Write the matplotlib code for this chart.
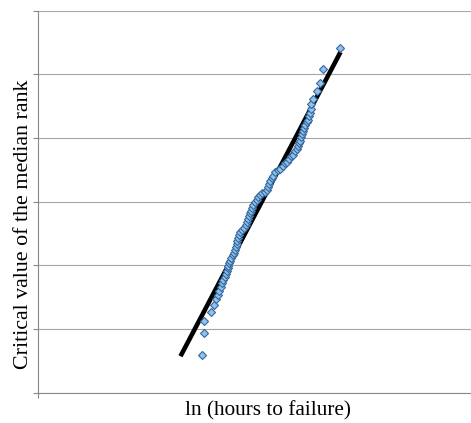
import matplotlib.pyplot as plt

# median rank plot values (ln hours vs ln(ln(1/(1-F))))
ln_hours = [3.28, 3.31, 3.32, 3.45, 3.51, 3.56, 3.59, 3.62, 3.65, 3.68,
            3.70, 3.73, 3.75, 3.77, 3.79, 3.80, 3.82, 3.84, 3.86, 3.89,
            3.91, 3.93, 3.95, 3.97, 3.98, 4.00, 4.01, 4.04, 4.08, 4.12,
            4.15, 4.17, 4.19, 4.21, 4.23, 4.25, 4.28, 4.31, 4.34, 4.37,
            4.40, 4.44, 4.48, 4.53, 4.57, 4.60, 4.62, 4.64, 4.67, 4.70,
            4.74, 4.79, 4.84, 4.89, 4.94, 4.98, 5.02, 5.06, 5.10, 5.14,
            5.17, 5.20, 5.22, 5.24, 5.26, 5.28, 5.30, 5.32, 5.34, 5.37,
            5.39, 5.41, 5.43, 5.45, 5.46, 5.49, 5.57, 5.63, 5.69, 6.03]
median_rank = [-4.41, -4.07, -3.88, -3.74, -3.63, -3.53, -3.47, -3.41, -3.34, -3.28,
               -3.23, -3.19, -3.14, -3.09, -3.05, -3.01, -2.97, -2.93, -2.89, -2.84,
               -2.80, -2.76, -2.72, -2.67, -2.62, -2.57, -2.53, -2.48, -2.45, -2.42,
               -2.37, -2.32, -2.28, -2.23, -2.18, -2.14, -2.10, -2.06, -2.01, -1.97,
               -1.93, -1.90, -1.87, -1.85, -1.82, -1.77, -1.73, -1.68, -1.63, -1.59,
               -1.54, -1.51, -1.48, -1.44, -1.40, -1.37, -1.33, -1.29, -1.26, -1.21,
               -1.17, -1.13, -1.08, -1.04, -0.99, -0.94, -0.89, -0.85, -0.80, -0.75,
               -0.71, -0.65, -0.60, -0.54, -0.47, -0.38, -0.26, -0.13, 0.08, 0.42]

# fitted straight line
fit_x = [2.85, 6.05]
fit_y = [-4.43, 0.35]

y_grid = [-5, -4, -3, -2, -1, 0, 1]

plt.rcParams['font.family'] = ['Liberation Serif', 'DejaVu Serif']

fig = plt.figure(figsize=(4.71, 4.23), dpi=100)
ax = fig.add_axes([38 / 471, 30.5 / 423, 433 / 471, 381.8 / 423])

ax.plot(fit_x, fit_y, color="black", lw=3.3, solid_capstyle="butt", zorder=2)
ax.plot(ln_hours, median_rank, ls="none", marker="D", ms=3.9,
        markerfacecolor="#8ec2ef", markeredgecolor="#35669a", markeredgewidth=0.8,
        zorder=3)

ax.set_xlim(0, 8.66)
ax.set_ylim(-5, 1)
ax.set_yticks(y_grid)
ax.set_xticks([0])
ax.set_yticklabels([])
ax.set_xticklabels([])
ax.tick_params(direction="out", length=3.6, width=0.8, color="#888888")
ax.grid(axis="y", color="#a6a6a6", lw=0.8)
ax.set_axisbelow(True)

for s in ["top", "right"]:
    ax.spines[s].set_visible(False)
for s in ["left", "bottom"]:
    ax.spines[s].set_color("#888888")
    ax.spines[s].set_linewidth(0.8)

fig.text(267.5 / 471, 1 - 411 / 423, "ln (hours to failure)", ha="center", va="center",
         fontsize=15.3)
fig.text(24 / 471, 1 - 224 / 423, "Critical value of the median rank", ha="center",
         va="center", rotation=90, fontsize=15.8)

fig.savefig("out.png", dpi=100)
